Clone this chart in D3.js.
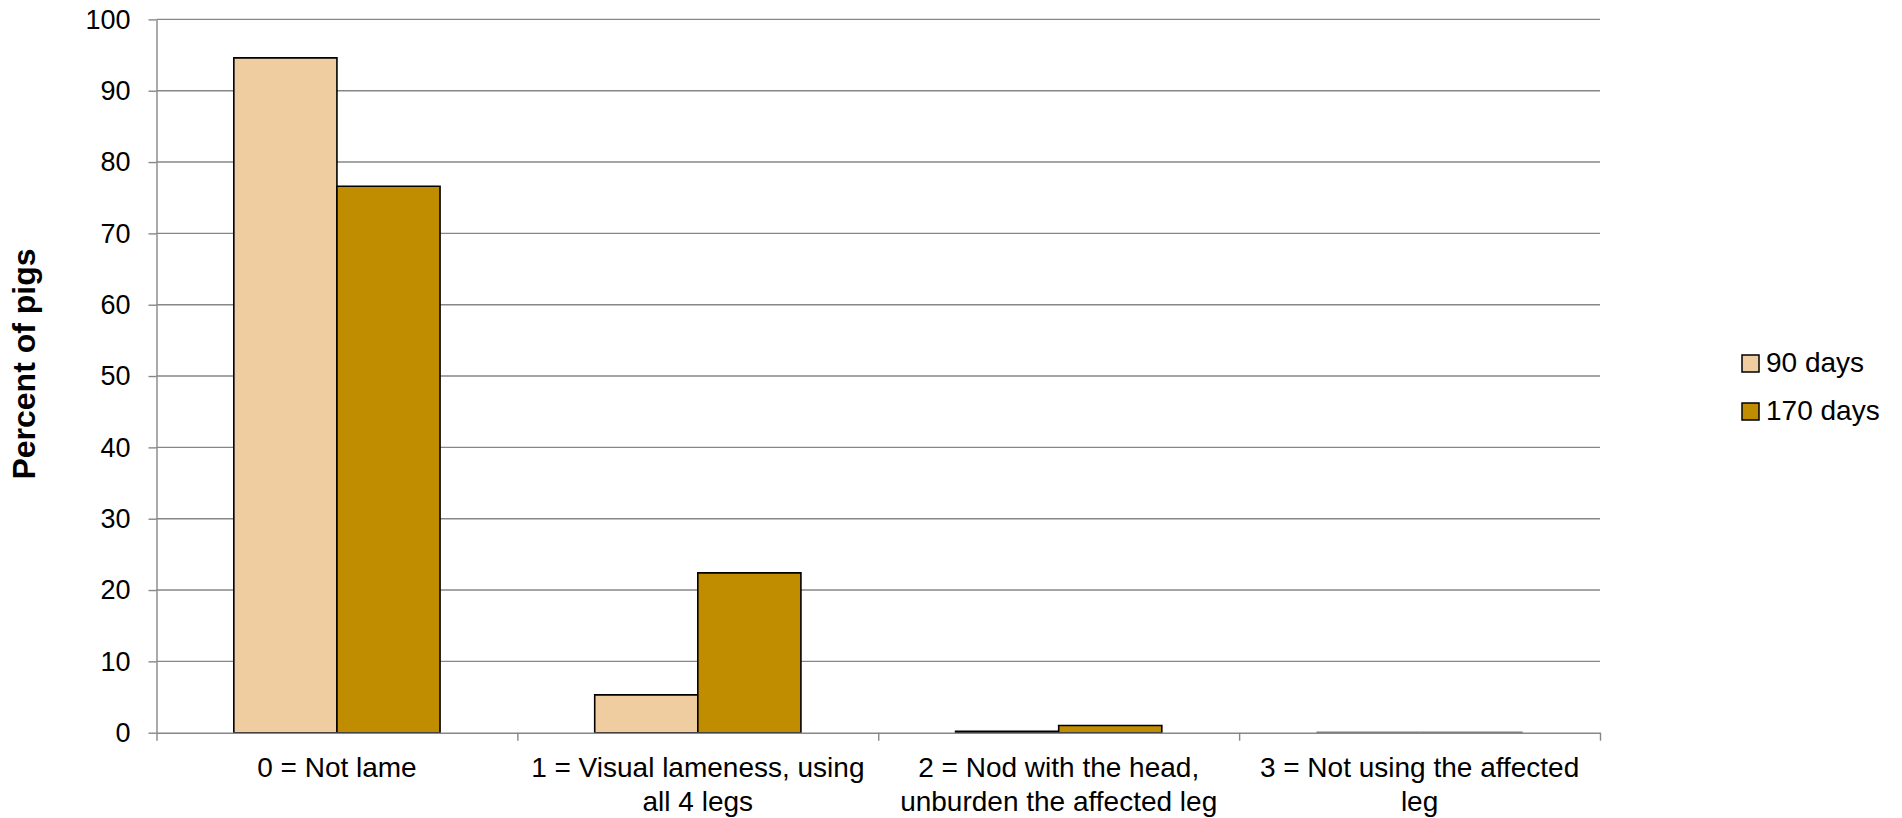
<!DOCTYPE html>
<html>
<head>
<meta charset="utf-8">
<script src="https://cdn.jsdelivr.net/npm/d3@7"></script>
<style>
  html, body { margin: 0; padding: 0; background: #fff; }
  svg { display: block; font-family: "Liberation Sans", Arial, sans-serif; }
</style>
</head>
<body>
<svg id="chart" width="1902" height="818"></svg>
<script>
// Lameness score categories (line breaks marked with \n)
const categories = [
  "0 = Not lame",
  "1 = Visual lameness, using\nall 4 legs",
  "2 = Nod with the head,\nunburden the affected leg",
  "3 = Not using the affected\nleg"
];
const seriesNames = ["90 days", "170 days"];
const days90 = [94.6, 5.3, 0.2, 0];
const days170 = [76.6, 22.4, 1.0, 0];
const yTicks = [0, 10, 20, 30, 40, 50, 60, 70, 80, 90, 100];
const colors = ["#F0CDA0", "#C08C00"];

const svg = d3.select("#chart");
const plot = { left: 156.5, right: 1600, top: 19.4, bottom: 732.7 };

const x0 = d3.scaleBand().domain(categories).range([plot.left, plot.right]).padding(0);
const x1 = d3.scaleBand().domain(seriesNames).range([0, x0.bandwidth()])
  .paddingInner(0).paddingOuter(0.75);
const y = d3.scaleLinear().domain([0, 100]).range([plot.bottom, plot.top]);
const xEdges = d3.scaleLinear().domain([0, categories.length]).range([plot.left, plot.right]);

const gridColor = "#878787";

// horizontal gridlines
svg.append("g")
  .selectAll("line")
  .data(yTicks.filter(d => d > 0))
  .join("line")
  .attr("x1", plot.left).attr("x2", plot.right)
  .attr("y1", d => y(d)).attr("y2", d => y(d))
  .attr("stroke", gridColor).attr("stroke-width", 1.4);

// y axis
const yAxis = svg.append("g")
  .attr("transform", `translate(${plot.left},0)`)
  .call(d3.axisLeft(y).tickValues(yTicks).tickSize(8).tickPadding(18).tickSizeOuter(0));
yAxis.select(".domain").attr("stroke", gridColor).attr("stroke-width", 1.4);
yAxis.selectAll(".tick line").attr("stroke", gridColor).attr("stroke-width", 1.4);
yAxis.selectAll(".tick text")
  .attr("font-size", 27).attr("fill", "#000")
  .attr("font-family", "'Liberation Sans', Arial, sans-serif");

// bars
const rows = seriesNames.map((s, i) => ({ name: s, values: i === 0 ? days90 : days170, color: colors[i] }));
const barGroups = svg.append("g")
  .selectAll("g")
  .data(rows)
  .join("g");
barGroups.selectAll("path")
  .data(r => r.values.map((v, j) => ({ v, cat: categories[j], s: r.name, color: r.color })))
  .join("path")
  .attr("d", d => {
    const xa = x0(d.cat) + x1(d.s), xb = xa + x1.bandwidth();
    const ya = y(0), yb = y(d.v);
    return `M${xa},${ya}V${yb}H${xb}V${ya}Z`;
  })
  .attr("fill", d => d.color)
  .attr("stroke", d => d.v === 0 ? "#7a7a7a" : "#000")
  .attr("stroke-width", d => d.v === 0 ? 2.6 : 1.6);

// x axis with ticks at category edges
const xAxis = svg.append("g")
  .attr("transform", `translate(0,${plot.bottom})`)
  .call(d3.axisBottom(xEdges).tickValues(d3.range(categories.length + 1))
    .tickFormat("").tickSize(8).tickSizeOuter(0));
xAxis.select(".domain").attr("stroke", gridColor).attr("stroke-width", 1.4);
xAxis.selectAll(".tick line").attr("stroke", gridColor).attr("stroke-width", 1.4);

// category labels
const labels = svg.append("g")
  .selectAll("text")
  .data(categories)
  .join("text")
  .attr("text-anchor", "middle")
  .attr("font-size", 28)
  .attr("fill", "#000")
  .attr("y", plot.bottom + 44);
labels.selectAll("tspan")
  .data(d => d.split("\n").map(line => ({ line, cat: d })))
  .join("tspan")
  .attr("x", d => x0(d.cat) + x0.bandwidth() / 2)
  .attr("dy", (d, i) => i === 0 ? 0 : 34)
  .text(d => d.line);

// y axis title
svg.append("text")
  .attr("transform", `translate(35,364) rotate(-90)`)
  .attr("text-anchor", "middle")
  .attr("font-size", 32)
  .attr("font-weight", "bold")
  .attr("fill", "#000")
  .text("Percent of pigs");

// legend
const legend = svg.append("g").attr("transform", "translate(1742,355)");
const items = legend.selectAll("g")
  .data(rows)
  .join("g")
  .attr("transform", (d, i) => `translate(0,${i * 48})`);
items.append("rect")
  .attr("width", 17).attr("height", 17)
  .attr("fill", d => d.color)
  .attr("stroke", "#000").attr("stroke-width", 1.5);
items.append("text")
  .attr("x", 24).attr("y", 17)
  .attr("font-size", 28)
  .attr("fill", "#000")
  .text(d => d.name);
</script>
</body>
</html>
